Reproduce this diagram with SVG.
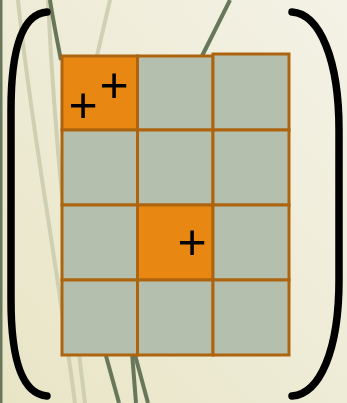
<svg xmlns="http://www.w3.org/2000/svg" width="347" height="403" viewBox="0 0 347 403">
<defs>
<linearGradient id="bg" x1="0" y1="1" x2="1" y2="0">
<stop offset="0" stop-color="#e8e5c6"/>
<stop offset="1" stop-color="#f4f2e6"/>
</linearGradient>
</defs>
<style>
.light{fill:none;stroke:#c9cbab;stroke-width:4;stroke-linecap:round;opacity:.85}
.dark{fill:none;stroke:#68775a;stroke-width:4}
.cell{stroke:#ad640f;stroke-width:3}
.g{fill:#b5bfae}
.o{fill:#e88812}
.br{fill:none;stroke:#000;stroke-width:7.5;stroke-linecap:round}
.p{font-family:"Liberation Sans",Arial,sans-serif;font-size:50px;fill:#000;text-anchor:middle}
</style>
<rect width="347" height="403" fill="url(#bg)"/>
<g id="background">
<line x1="1" y1="0" x2="1" y2="403" stroke="#68775a" stroke-width="3"/>
<path class="light" d="M18,0 C30,120 55,250 75,403"/>
<path class="light" d="M48,0 C55,150 70,280 85,403"/>
<path class="light" d="M110,0 L96,60"/>
<path class="dark" d="M50,0 C53,20 57,40 61,60"/>
<path class="dark" d="M103,345 L119,403" stroke-width="8"/>
<path class="dark" d="M131,340 L148,403" stroke-width="7"/>
<path class="dark" d="M131,340 L136,403" stroke-width="4"/>
<path class="dark" d="M230,0 L202,56" stroke-width="3"/>
</g>
<g id="matrix">
<g id="c00"><rect class="cell o" x="62" y="56" width="75.5" height="74"/></g>
<g id="c01"><rect class="cell g" x="137.5" y="56" width="75.5" height="74"/></g>
<g id="c02"><rect class="cell g" x="213" y="54" width="76" height="76"/></g>
<g id="c10"><rect class="cell g" x="62" y="130" width="75.5" height="75"/></g>
<g id="c11"><rect class="cell g" x="137.5" y="130" width="75.5" height="75"/></g>
<g id="c12"><rect class="cell g" x="213" y="130" width="76" height="75"/></g>
<g id="c20"><rect class="cell g" x="62" y="205" width="75.5" height="75"/></g>
<g id="c21"><rect class="cell o" x="137.5" y="205" width="75.5" height="75"/></g>
<g id="c22"><rect class="cell g" x="213" y="205" width="76" height="75"/></g>
<g id="c30"><rect class="cell g" x="62" y="280" width="75.5" height="75"/></g>
<g id="c31"><rect class="cell g" x="137.5" y="280" width="75.5" height="75"/></g>
<g id="c32"><rect class="cell g" x="213" y="280" width="76" height="75"/></g>
</g>
<g id="marks">
<text class="p" x="83" y="121.5">+</text>
<text class="p" x="114" y="102">+</text>
<text class="p" x="192" y="258.5">+</text>
</g>
<g id="brackets">
<path class="br" d="M47,12 C22,14 11,50 11,110 L11,300 C11,360 22,394 47,396"/>
<path class="br" d="M292,12 C320,14 339,60 339,130 L339,280 C339,350 320,394 292,396"/>
</g>
</svg>
